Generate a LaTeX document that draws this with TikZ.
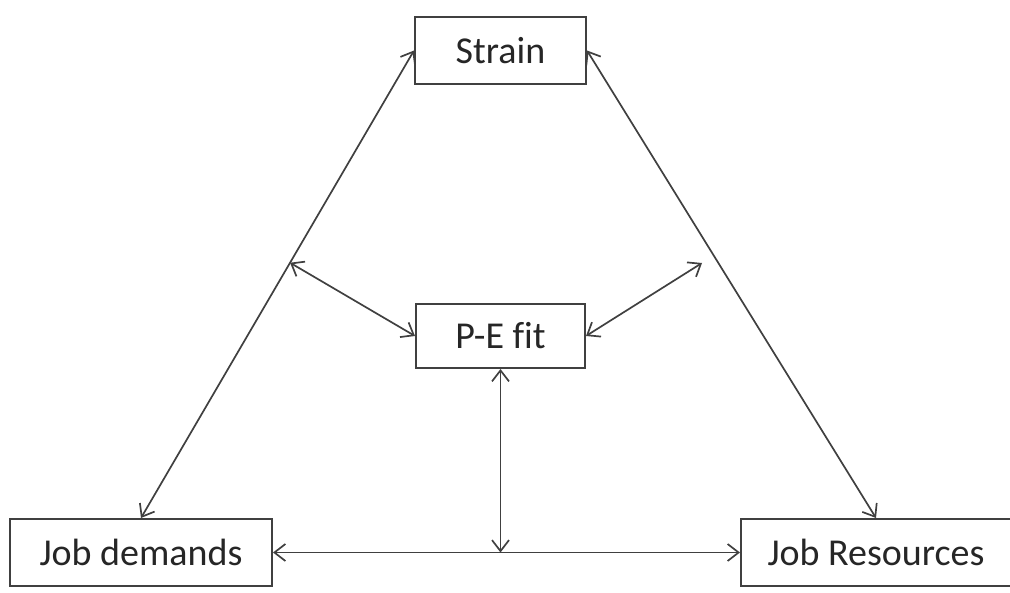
\documentclass[tikz,border=0pt]{standalone}
\usepackage{fontspec}
\setmainfont{Carlito}[Ligatures=NoCommon]
\usetikzlibrary{arrows.meta,calc}

\begin{document}
\begin{tikzpicture}[x=1pt, y=1pt,
    every node/.style={font=\fontsize{38}{44}\selectfont, text=black!85},
    box/.style={draw=black!75, line width=2pt, inner sep=0pt},
    arr/.style={{Straight Barb[length=11pt,width=17pt,line width=1.7pt]}-{Straight Barb[length=11pt,width=17pt,line width=1.7pt]}, line width=1.7pt, draw=black!75}]
  \useasboundingbox (0,0) rectangle (1010,-593);

  % boxes
  \node[box, minimum width=171pt, minimum height=67pt] (strain) at (500.5,-50.5) {Strain};
  \node[box, minimum width=169pt, minimum height=64pt] (pefit) at (500.5,-336) {P-E fit};
  \node[box, minimum width=262pt, minimum height=67pt] (demands) at (141,-552.5) {Job demands};
  \node[box, minimum width=270pt, minimum height=67pt] (resources) at (876,-552.5) {Job Resources};

  % helper points
  \coordinate (leftmid) at ($(strain.west)!0.454!(demands.north)$);
  \coordinate (rightmid) at (702,-263);
  \coordinate (base) at (pefit.south |- demands.east);

  % triangle sides
  \draw[arr] (strain.west) -- (demands.north);
  \draw[arr] (strain.east) -- (resources.north);
  \draw[arr] (demands.east) -- (resources.west);

  % links to the fit box
  \draw[arr] (leftmid) -- (pefit.west);
  \draw[arr] (rightmid) -- (pefit.east);
  \draw[arr] (pefit.south) -- (base);
\end{tikzpicture}
\end{document}
